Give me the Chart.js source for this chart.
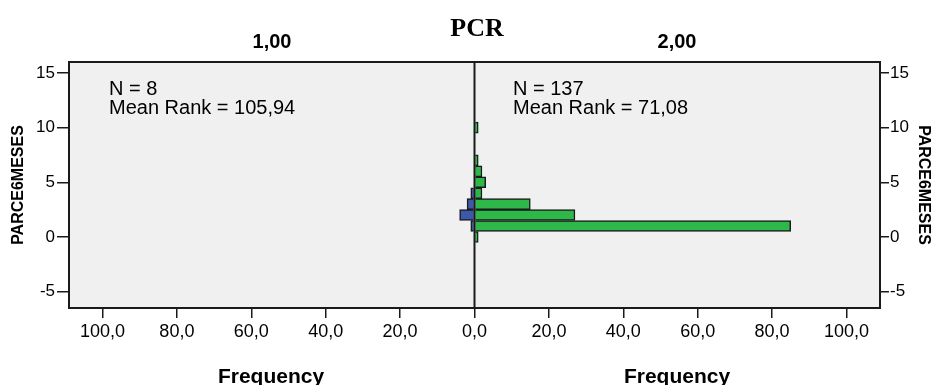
<!DOCTYPE html>
<html>
<head>
<meta charset="utf-8">
<script src="https://cdn.jsdelivr.net/npm/chart.js@4/dist/chart.umd.min.js"></script>
<style>
  body { margin: 0; background: #fff; }
  #wrap { position: relative; width: 931px; height: 385px; font-family: Arial, "Liberation Sans", sans-serif; color: #000; }
  #wrap canvas { position: absolute; left: 0; top: 0; }
  .lbl { position: absolute; white-space: nowrap; }
  .ctr { transform: translate(-50%, -50%); }
  .head { font-weight: bold; font-size: 20px; }
  .freq { font-weight: bold; font-size: 21px; }
  .stat { font-size: 20px; line-height: 19px; }
</style>
</head>
<body>
<div id="wrap">
  <canvas id="pyramid" width="931" height="385"></canvas>
  <div class="lbl ctr" style="left:477px; top:28px; font-family:'Liberation Serif','Times New Roman',serif; font-weight:bold; font-size:26px;">PCR</div>
  <div class="lbl ctr head" style="left:272px; top:41px;">1,00</div>
  <div class="lbl ctr head" style="left:677px; top:41px;">2,00</div>
  <div class="lbl stat" style="left:109px; top:79px;">N = 8<br>Mean Rank = 105,94</div>
  <div class="lbl stat" style="left:513px; top:79px;">N = 137<br>Mean Rank = 71,08</div>
  <div class="lbl ctr freq" style="left:271px; top:376px;">Frequency</div>
  <div class="lbl ctr freq" style="left:677px; top:376px;">Frequency</div>
</div>
<script>
// PARCE6MESES bins (y) and frequencies per PCR group
const binValues = [0, 1, 2, 3, 4, 5, 6, 7, 10];
const freqPcr1 = [0, 1, 4, 2, 1, 0, 0, 0, 0];    // group 1,00 (left, blue)
const freqPcr2 = [1, 85, 27, 15, 2, 3, 2, 1, 1]; // group 2,00 (right, green)

const xTickValues = [-100, -80, -60, -40, -20, 0, 20, 40, 60, 80, 100];
const yTickValues = [-5, 0, 5, 10, 15];
const yAxisTitle = 'PARCE6MESES';

// left half goes negative so both groups share one frequency axis
const leftData = binValues.map((b, i) => ({ x: freqPcr1[i] ? -freqPcr1[i] : null, y: b }));
const rightData = binValues.map((b, i) => ({ x: freqPcr2[i] || null, y: b }));

const panelPlugin = {
    id: 'panel',
    beforeDatasetsDraw(chart) {
        const { ctx, chartArea: a } = chart;
        ctx.save();
        ctx.fillStyle = '#f0f0f0';
        ctx.fillRect(a.left, a.top, a.right - a.left, a.bottom - a.top);
        ctx.restore();
    },
    afterDatasetsDraw(chart) {
        const { ctx, chartArea: a } = chart;
        const x0 = chart.scales.x.getPixelForValue(0);
        ctx.save();
        ctx.strokeStyle = '#1a1a1a';
        ctx.lineWidth = 2;
        ctx.strokeRect(a.left, a.top, a.right - a.left, a.bottom - a.top);
        ctx.beginPath();
        ctx.moveTo(x0, a.top);
        ctx.lineTo(x0, a.bottom);
        ctx.stroke();
        ctx.restore();
    }
};

const fixTicks = values => scale => { scale.ticks = values.map(v => ({ value: v })); };
const axisFont = { family: 'Arial, "Liberation Sans", sans-serif', size: 17 };

function freqAxis(position, width, tickLength, padding, titlePad, lineHeight) {
    return {
        type: 'linear',
        position: position,
        min: -6.5,
        max: 16,
        offset: false,
        afterBuildTicks: fixTicks(yTickValues),
        afterFit(scale) { scale.width = width; },
        border: { display: false },
        grid: { offset: false, drawOnChartArea: false, drawTicks: true, tickLength: tickLength, color: '#1a1a1a', lineWidth: 1.5 },
        ticks: { color: '#000', padding: padding, font: axisFont },
        title: {
            display: true,
            text: yAxisTitle,
            color: '#000',
            padding: { top: titlePad, bottom: 0 },
            font: { family: axisFont.family, size: 16, weight: 'bold', lineHeight: lineHeight }
        }
    };
}

new Chart(document.getElementById('pyramid').getContext('2d'), {
    type: 'bar',
    data: {
        datasets: [
            { data: leftData, backgroundColor: '#3d57aa', borderColor: '#1a1a1a', borderWidth: 1.5, grouped: false },
            { data: rightData, backgroundColor: '#2eb84a', borderColor: '#1a1a1a', borderWidth: 1.5, grouped: false }
        ]
    },
    options: {
        indexAxis: 'y',
        responsive: false,
        animation: false,
        devicePixelRatio: 1,
        barPercentage: 1,
        categoryPercentage: 1,
        layout: { padding: { top: 62, left: 0, right: 0, bottom: 0 } },
        plugins: { legend: { display: false }, tooltip: { enabled: false } },
        scales: {
            x: {
                type: 'linear',
                position: 'bottom',
                min: -109,
                max: 109,
                afterBuildTicks: fixTicks(xTickValues),
                afterFit(scale) { scale.height = 77; },
                border: { display: false },
                grid: { drawOnChartArea: false, drawTicks: true, tickLength: 10, color: '#1a1a1a', lineWidth: 1.5 },
                ticks: {
                    color: '#000',
                    padding: 3,
                    maxRotation: 0,
                    font: { family: axisFont.family, size: 18 },
                    callback: v => Math.abs(v).toFixed(1).replace('.', ',')
                }
            },
            y: freqAxis('left', 69, 12, 2, 9, 1.2),
            y2: freqAxis('right', 51, 9, 1, 0, 0.9)
        }
    },
    plugins: [panelPlugin]
});
</script>
</body>
</html>
